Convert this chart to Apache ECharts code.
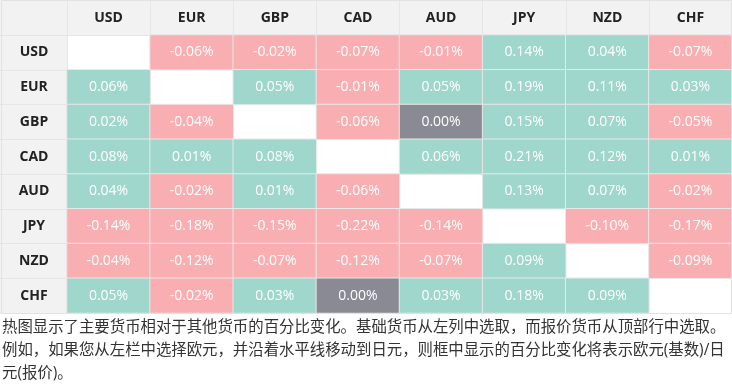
<!DOCTYPE html>
<html><head><meta charset="utf-8">
<script src="https://cdn.jsdelivr.net/npm/echarts@6/dist/echarts.min.js"></script>
<style>html,body{margin:0;padding:0;background:#fff}#c{width:732px;height:388px}</style>
</head><body><div id="c"></div>
<script>
const currencies = ['USD','EUR','GBP','CAD','AUD','JPY','NZD','CHF'];
const rowUSD = [null,-0.06,-0.02,-0.07,-0.01,0.14,0.04,-0.07];
const rowEUR = [0.06,null,0.05,-0.01,0.05,0.19,0.11,0.03];
const rowGBP = [0.02,-0.04,null,-0.06,0.00,0.15,0.07,-0.05];
const rowCAD = [0.08,0.01,0.08,null,0.06,0.21,0.12,0.01];
const rowAUD = [0.04,-0.02,0.01,-0.06,null,0.13,0.07,-0.02];
const rowJPY = [-0.14,-0.18,-0.15,-0.22,-0.14,null,-0.10,-0.17];
const rowNZD = [-0.04,-0.12,-0.07,-0.12,-0.07,0.09,null,-0.09];
const rowCHF = [0.05,-0.02,0.03,0.00,0.03,0.18,0.09,null];
const rows = [rowUSD,rowEUR,rowGBP,rowCAD,rowAUD,rowJPY,rowNZD,rowCHF];
const noteLines = [
  '热图显示了主要货币相对于其他货币的百分比变化。基础货币从左列中选取，而报价货币从顶部行中选取。',
  '例如，如果您从左栏中选择欧元，并沿着水平线移动到日元，则框中显示的百分比变化将表示欧元(基数)/日',
  '元(报价)。'
];

const data = [];
rows.forEach((r, yi) => r.forEach((v, xi) => { if (v !== null) data.push([xi, yi, v]); }));

const font = '"Open Sans","Noto Sans CJK SC",sans-serif';
const chart = echarts.init(document.getElementById('c'));
chart.setOption({
  animation: false,
  backgroundColor: '#fff',
  textStyle: { fontFamily: font },
  graphic: [
    { type: 'rect', z: -10, shape: { x: 0, y: 0, width: 732, height: 35 }, style: { fill: '#f2f2f2' } },
    { type: 'rect', z: -10, shape: { x: 0, y: 0, width: 67, height: 313 }, style: { fill: '#f2f2f2' } },
    { type: 'rect', z: 100, shape: { x: 1.5, y: 0.5, width: 730, height: 313 }, style: { fill: null, stroke: '#e2e2e2', lineWidth: 1 } },
    { type: 'text', left: 2, top: 316, style: { text: noteLines.join('\n'), font: '15.4px ' + font, fill: '#333', lineHeight: 23 } }
  ],
  grid: { left: 67, right: 0, top: 35, bottom: 75 },
  xAxis: {
    type: 'category', position: 'top', data: currencies,
    axisLine: { show: true, lineStyle: { color: '#e6e6e6' } },
    axisTick: { show: true, length: 35, lineStyle: { color: '#e6e6e6' } },
    axisLabel: { fontWeight: 'bold', fontSize: 14, color: '#222', margin: 17, verticalAlign: 'middle', fontFamily: font },
    splitLine: { show: false }
  },
  yAxis: {
    type: 'category', inverse: true, data: currencies,
    axisLine: { show: true, lineStyle: { color: '#e6e6e6' } },
    axisTick: { show: true, length: 67, lineStyle: { color: '#e6e6e6' } },
    axisLabel: { fontWeight: 'bold', fontSize: 14, color: '#222', margin: 33, align: 'center', fontFamily: font },
    splitLine: { show: false }
  },
  visualMap: {
    show: false, type: 'piecewise', dimension: 2,
    pieces: [
      { lt: 0, color: '#f9aeb2' },
      { value: 0, color: '#898a93' },
      { gt: 0, color: '#9fd7cc' }
    ]
  },
  series: [{
    type: 'heatmap', data: data,
    itemStyle: { borderColor: '#e8e8e8', borderWidth: 1 },
    label: { show: true, color: '#fff', fontSize: 14, fontFamily: font, formatter: p => p.value[2].toFixed(2) + '%' },
    emphasis: { disabled: true }
  }]
});
</script></body></html>
